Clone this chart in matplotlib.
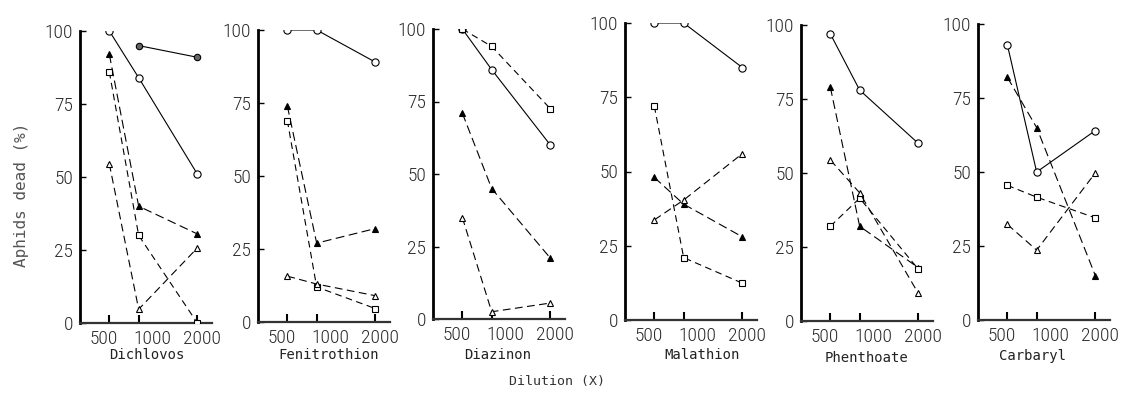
import matplotlib
matplotlib.use("Agg")
import matplotlib.pyplot as plt
from matplotlib import font_manager as fm

# ---------------- data ----------------
insecticides = ["Dichlovos", "Fenitrothion", "Diazinon", "Malathion", "Phenthoate", "Carbaryl"]
dilutions = [500, 1000, 2000]
tick_labels = ["500", "1000", "2000"]
y_ticks = [0, 25, 50, 75, 100]

open_circle = [[100, 84, 51], [100, 100, 89], [100, 86, 60], [100, 100, 85], [97, 78, 60], [93, 50, 64]]
filled_triangle = [[92, 40, 30.5], [74, 27, 32], [71, 45, 21], [48, 39, 28], [79, 32, 18], [82, 65, 15]]
open_square = [[86, 30, 0], [69, 12, 4.6], [100, 94, 72.5], [72, 21, 12.4], [32, 41.5, 17.5], [45.5, 41.5, 34.5]]
open_triangle = [[54.5, 4.7, 25.7], [15.7, 13, 9], [35, 2.5, 5.5], [33.7, 40.4, 56], [54.4, 43.3, 9.3], [32.3, 23.6, 49.7]]
filled_circle_x = [1000, 2000]          # Dichlovos only
filled_circle = [95, 91]

# ---------------- fonts ----------------
avail = {f.name for f in fm.fontManager.ttflist}
tick_font = next((f for f in ["Liberation Sans Narrow", "Roboto Condensed", "Open Sans Condensed",
                              "DejaVu Sans Condensed"] if f in avail), "DejaVu Sans")
mono_font = "DejaVu Sans Mono"

W, H = 1121, 394
fig = plt.figure(figsize=(W / 100, H / 100), dpi=100)

# (spine x px, y px at 0, y px at 100, label center x px, label center y px)
layout = [(80, 323, 31, 147, 355), (258, 322, 30, 329, 355), (433, 319, 29, 498, 355),
          (625, 320, 23, 702, 355), (801, 321, 25, 867, 358), (978, 320, 24, 1033, 356)]
AX_W = 132

for i, name in enumerate(insecticides):
    x0, y0, y100, lx, ly = layout[i]
    ax = fig.add_axes([x0 / W, 1 - y0 / H, AX_W / W, (y0 - y100) / H])
    ax.set_xlim(0, 2250)
    ax.set_ylim(0, 100)
    for s in ("top", "right"):
        ax.spines[s].set_visible(False)
    ax.spines["left"].set_linewidth(2.0)
    ax.spines["left"].set_color("black")
    ax.spines["bottom"].set_linewidth(1.6)
    ax.spines["bottom"].set_color("#333333")

    mk = dict(markeredgecolor="black", markeredgewidth=0.8)
    ax.plot(dilutions, open_circle[i], color="black", lw=0.8, marker="o", ms=5.2,
            markerfacecolor="white", zorder=3, **mk)
    ax.plot(dilutions, filled_triangle[i], color="black", lw=0.8, ls=(0, (8, 4)), marker="^",
            ms=4.0, markerfacecolor="black", zorder=3, **mk)
    ax.plot(dilutions, open_square[i], color="black", lw=0.8, ls=(0, (6, 4)), marker="s",
            ms=4.2, markerfacecolor="white", zorder=3, **mk)
    ax.plot(dilutions, open_triangle[i], color="black", lw=0.8, ls=(0, (7, 4)), marker="^",
            ms=4.6, markerfacecolor="white", zorder=3, **mk)
    if name == "Dichlovos":
        ax.plot(filled_circle_x, filled_circle, color="black", lw=0.8, marker="o", ms=4.6,
                markerfacecolor="#666666", zorder=3, **mk)

    # y axis
    ax.set_yticks(y_ticks)
    ax.set_yticklabels([str(v) for v in y_ticks], fontfamily=tick_font, fontsize=14,
                       fontweight="light")
    ax.tick_params(axis="y", direction="in", length=4, width=1, pad=5, colors="black",
                   labelcolor="#2a2a2a")
    # x axis: marks at the dilutions, labels shifted as in the original
    ax.set_xticks(dilutions)
    ax.set_xticklabels([])
    ax.tick_params(axis="x", which="major", direction="in", length=6, width=1.5)
    ax.set_xticks([400, 1230, 2080], minor=True)
    ax.set_xticklabels(tick_labels, minor=True, fontfamily=tick_font, fontsize=14,
                       fontweight="light", color="#2a2a2a")
    ax.tick_params(axis="x", which="minor", length=0, pad=5)
    ax.set_facecolor("none")

    fig.text(lx / W, 1 - ly / H, name, ha="center", va="center", fontfamily=mono_font,
             fontsize=10, color="#222222")

fig.text(22 / W, 1 - 195 / H, "Aphids dead (%)", rotation=90, ha="center", va="center",
         fontfamily=mono_font, fontsize=11.5, color="#555555")
fig.text(557 / W, 1 - 382 / H, "Dilution (X)", ha="center", va="center",
         fontfamily=mono_font, fontsize=9.5, color="#333333")

fig.savefig("out.png", dpi=100)
